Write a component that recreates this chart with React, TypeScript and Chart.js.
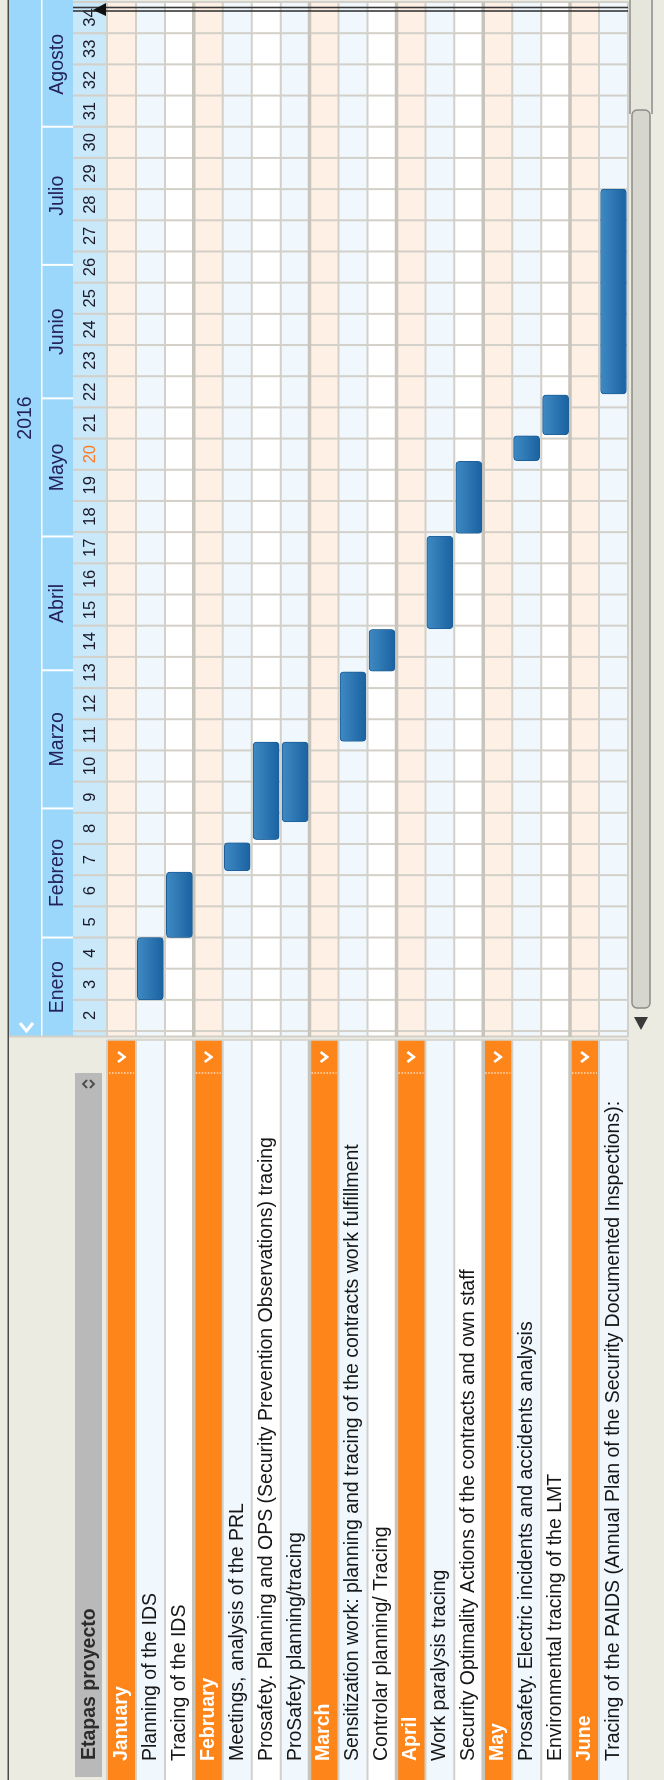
import React, { useEffect, useRef } from 'react';
import { Chart, registerables } from 'chart.js';

Chart.register(...registerables);

// ---------- data ----------
const taskLabels = [
  'January',
  'Planning of the IDS',
  'Tracing of the IDS',
  'February',
  'Meetings, analysis of the PRL',
  'Prosafety. Planning and OPS (Security Prevention Observations) tracing',
  'ProSafety planning/tracing',
  'March',
  'Sensitization work: planning and tracing of the contracts work fulfillment',
  'Controlar planning/ Tracing',
  'April',
  'Work paralysis tracing',
  'Security Optimality Actions of the contracts and own staff',
  'May',
  'Prosafety. Electric incidents and accidents analysis',
  'Environmental tracing of the LMT',
  'June',
  'Tracing of the PAIDS (Annual Plan of the Security Documented Inspections):',
];
const groupLabels = ['January', 'February', 'March', 'April', 'May', 'June'];
// start / end of each task, in weeks (week n spans n .. n+1)
const taskStart: (number | null)[] = [null, 3, 5, null, 7.14, 8.14, 8.71, null, 11.29, 13.54, null, 14.9, 17.96, null, 20.29, 21.12, null, 22.43];
const taskEnd: (number | null)[] = [null, 5, 7.1, null, 8.04, 11.27, 11.27, null, 13.52, 14.88, null, 17.87, 20.27, null, 21.09, 22.4, null, 29];
const weeks = [2, 3, 4, 5, 6, 7, 8, 9, 10, 11, 12, 13, 14, 15, 16, 17, 18, 19, 20, 21, 22, 23, 24, 25, 26, 27, 28, 29, 30, 31, 32, 33, 34];
const currentWeek = 20;
const monthNames = ['Enero', 'Febrero', 'Marzo', 'Abril', 'Mayo', 'Junio', 'Julio', 'Agosto'];
const monthStarts = [1, 5, 9.14, 13.57, 17.86, 22.29, 26.57, 31];
const yearLabel = '2016';
const panelTitle = 'Etapas proyecto';
const axisMin = 1.81;
const axisMax = 35;

// ---------- style / layout ----------
const FONT = "'Liberation Sans', Arial, Helvetica, sans-serif";
const W = 1780;
const H = 664;
const COL = {
  beige: '#ecebe1',
  head: '#9ad7fb',
  weekBand: '#c9e8fa',
  peach: '#fef0e5',
  lightBlue: '#f0f8fe',
  white: '#ffffff',
  orange: '#fe851a',
  grid: '#d2d0c8',
  gridGroup: '#c6c4bb',
  border: '#4a4a4a',
  text: '#161616',
  month: '#24225a',
  week: '#1a1a2a',
  weekNow: '#ff7a1f',
  bar1: '#3f8ac3',
  bar2: '#1a62a1',
  barBorder: '#1d5f99',
};
const LAY = {
  padLeft: 19,
  plotLeft: 743,
  plotTop: 107,
  padRight: 2,
  padBottom: 36,
  borderY: 8,
  yearTop: 9,
  yearBottom: 41,
  monthBottom: 73,
  weekTop: 73,
  panelRight: 740,
  headLeft: 3,
  headRight: 707,
  headTop: 75,
  headBottom: 102,
  yearX: 1362,
  chevronX: 723,
  dotX: 707,
  scrollTop: 630,
  scrollBottom: 652,
  thumbLeft: 772,
  thumbRight: 1670,
};
const LABEL_SIZE = 19.5;
const WEEK_SIZE = 16.5;

const isGroup = (i: number) => groupLabels.includes(taskLabels[i]);

const ganttPlugin = {
  id: 'ganttDecor',
  beforeDraw(chart: any) {
    const ctx: CanvasRenderingContext2D = chart.ctx;
    const xs = chart.scales.x;
    const ca = chart.chartArea;
    const n = taskLabels.length;
    const rh = (ca.bottom - ca.top) / n;
    ctx.save();
    ctx.fillStyle = COL.beige;
    ctx.fillRect(0, 0, W, H);

    // header bands
    ctx.fillStyle = COL.head;
    ctx.fillRect(ca.left, LAY.yearTop, W - ca.left, LAY.monthBottom - LAY.yearTop);
    ctx.fillStyle = '#ffffff';
    ctx.fillRect(ca.left, LAY.yearBottom, W - ca.left, 1.5);
    ctx.fillStyle = COL.weekBand;
    ctx.fillRect(ca.left, LAY.weekTop, W - ca.left, ca.top - LAY.weekTop);

    // rows (grid + panel)
    let k = 0;
    for (let i = 0; i < n; i++) {
      const top = ca.top + i * rh;
      let gridColor: string;
      let panelColor: string;
      if (isGroup(i)) {
        gridColor = COL.peach;
        panelColor = COL.orange;
        k = 0;
      } else {
        gridColor = k % 2 === 0 ? COL.lightBlue : COL.white;
        panelColor = gridColor;
        k++;
      }
      ctx.fillStyle = gridColor;
      ctx.fillRect(ca.left, top, ca.right - ca.left, rh);
      ctx.fillStyle = panelColor;
      ctx.fillRect(0, top, LAY.panelRight, rh);
    }

    // week lines
    ctx.strokeStyle = COL.grid;
    ctx.lineWidth = 2;
    for (let w = Math.ceil(axisMin); w <= axisMax; w++) {
      const px = xs.getPixelForValue(w);
      ctx.beginPath();
      ctx.moveTo(px, LAY.weekTop);
      ctx.lineTo(px, ca.bottom);
      ctx.stroke();
    }
    // grid left edge
    ctx.beginPath();
    ctx.moveTo(ca.left + 0.5, LAY.yearTop);
    ctx.lineTo(ca.left + 0.5, ca.bottom);
    ctx.stroke();

    // row separators
    for (let i = 0; i <= n; i++) {
      const yy = ca.top + i * rh;
      const grp = i > 0 && i < n && isGroup(i);
      ctx.strokeStyle = grp ? COL.gridGroup : COL.grid;
      ctx.lineWidth = grp ? 3.5 : 2;
      ctx.beginPath();
      ctx.moveTo(ca.left, yy);
      ctx.lineTo(ca.right, yy);
      ctx.stroke();
      ctx.beginPath();
      ctx.moveTo(0, yy);
      ctx.lineTo(LAY.panelRight, yy);
      ctx.stroke();
    }
    ctx.strokeStyle = COL.grid;
    ctx.lineWidth = 1.5;
    ctx.beginPath();
    ctx.moveTo(LAY.panelRight, ca.top);
    ctx.lineTo(LAY.panelRight, ca.bottom);
    ctx.stroke();

    // orange row decorations
    for (let i = 0; i < n; i++) {
      if (!isGroup(i)) continue;
      const top = ca.top + i * rh;
      const cy = top + rh / 2;
      ctx.strokeStyle = '#ffffff';
      ctx.lineWidth = 2.6;
      ctx.beginPath();
      ctx.moveTo(LAY.chevronX - 5, cy - 3.5);
      ctx.lineTo(LAY.chevronX, cy + 3);
      ctx.lineTo(LAY.chevronX + 5, cy - 3.5);
      ctx.stroke();
      ctx.lineWidth = 1.2;
      ctx.setLineDash([1.5, 1.5]);
      ctx.strokeStyle = 'rgba(255,255,255,0.9)';
      ctx.beginPath();
      ctx.moveTo(LAY.dotX, top + 2);
      ctx.lineTo(LAY.dotX, top + rh - 2);
      ctx.stroke();
      ctx.setLineDash([]);
    }

    // months
    ctx.font = `${LABEL_SIZE}px ${FONT}`;
    ctx.textAlign = 'center';
    ctx.textBaseline = 'middle';
    for (let i = 0; i < monthNames.length; i++) {
      const s = monthStarts[i];
      const e = i + 1 < monthStarts.length ? monthStarts[i + 1] : axisMax;
      const vs = Math.max(s, axisMin);
      const ve = Math.min(e, axisMax);
      if (ve <= vs) continue;
      if (s > axisMin) {
        const px = xs.getPixelForValue(s);
        ctx.fillStyle = '#ffffff';
        ctx.fillRect(px - 1, LAY.yearBottom, 2, LAY.monthBottom - LAY.yearBottom);
      }
      ctx.fillStyle = COL.month;
      ctx.fillText(monthNames[i], (xs.getPixelForValue(vs) + xs.getPixelForValue(ve)) / 2, (LAY.yearBottom + LAY.monthBottom) / 2 + 1);
    }
    // year
    ctx.fillStyle = COL.month;
    ctx.fillText(yearLabel, LAY.yearX, (LAY.yearTop + LAY.yearBottom) / 2 + 1);

    // year band chevron
    ctx.strokeStyle = '#ffffff';
    ctx.lineWidth = 3;
    ctx.beginPath();
    ctx.moveTo(ca.left + 14, 20);
    ctx.lineTo(ca.left + 6, 26.5);
    ctx.lineTo(ca.left + 14, 33);
    ctx.stroke();

    // left border
    ctx.fillStyle = COL.border;
    ctx.fillRect(0, LAY.borderY - 0.5, W, 1.5);

    // panel header
    ctx.fillStyle = '#b9b9b9';
    ctx.fillRect(LAY.headLeft, LAY.headTop, LAY.headRight - LAY.headLeft, LAY.headBottom - LAY.headTop);
    ctx.fillStyle = '#2c2c2c';
    ctx.font = `bold ${LABEL_SIZE}px ${FONT}`;
    ctx.textAlign = 'left';
    ctx.fillText(panelTitle, LAY.padLeft + 1, (LAY.headTop + LAY.headBottom) / 2 + 1);
    ctx.strokeStyle = '#4a4a4a';
    ctx.lineWidth = 1.8;
    ctx.beginPath();
    ctx.moveTo(692, 87);
    ctx.lineTo(696, 83);
    ctx.lineTo(700, 87);
    ctx.moveTo(692, 90);
    ctx.lineTo(696, 94);
    ctx.lineTo(700, 90);
    ctx.stroke();

    // scrollbar
    ctx.fillStyle = '#e7e6dd';
    ctx.fillRect(LAY.thumbRight, LAY.scrollTop, W - LAY.thumbRight, LAY.scrollBottom - LAY.scrollTop);
    ctx.strokeStyle = '#a3a3a0';
    ctx.lineWidth = 2;
    ctx.beginPath();
    ctx.moveTo(LAY.thumbRight - 4, LAY.scrollTop);
    ctx.lineTo(W, LAY.scrollTop);
    ctx.moveTo(LAY.thumbRight - 4, LAY.scrollBottom);
    ctx.lineTo(W, LAY.scrollBottom);
    ctx.stroke();
    ctx.fillStyle = '#d6d5ce';
    ctx.strokeStyle = '#8c8c8a';
    ctx.lineWidth = 1.5;
    ctx.beginPath();
    const tw = LAY.thumbRight - LAY.thumbLeft;
    const th = LAY.scrollBottom - LAY.scrollTop - 4;
    if ((ctx as any).roundRect) {
      (ctx as any).roundRect(LAY.thumbLeft, LAY.scrollTop + 2, tw, th, 5);
    } else {
      ctx.rect(LAY.thumbLeft, LAY.scrollTop + 2, tw, th);
    }
    ctx.fill();
    ctx.stroke();
    ctx.fillStyle = '#3a3a3a';
    ctx.beginPath();
    ctx.moveTo(ca.left + 7, 641);
    ctx.lineTo(ca.left + 20, 634);
    ctx.lineTo(ca.left + 20, 648);
    ctx.closePath();
    ctx.fill();
    ctx.restore();
  },
  afterDraw(chart: any) {
    const ctx: CanvasRenderingContext2D = chart.ctx;
    const ca = chart.chartArea;
    ctx.save();
    ctx.strokeStyle = '#383838';
    ctx.lineWidth = 1.6;
    ctx.beginPath();
    ctx.moveTo(1769, LAY.weekTop);
    ctx.lineTo(1769, ca.bottom);
    ctx.moveTo(1772.5, LAY.weekTop);
    ctx.lineTo(1772.5, ca.bottom);
    ctx.stroke();
    ctx.fillStyle = '#111111';
    ctx.beginPath();
    ctx.moveTo(1770, 93);
    ctx.lineTo(1764, 106);
    ctx.lineTo(1777, 106);
    ctx.closePath();
    ctx.fill();
    ctx.restore();
  },
};

function barFill(c: any) {
  const chart = c.chart;
  const ys = chart && chart.scales ? chart.scales.y : null;
  if (!ys || typeof c.dataIndex !== 'number') return COL.bar2;
  const cy = ys.getPixelForValue(c.dataIndex);
  if (!Number.isFinite(cy)) return COL.bar2;
  const g = chart.ctx.createLinearGradient(0, cy - 13, 0, cy + 13);
  g.addColorStop(0, COL.bar1);
  g.addColorStop(1, COL.bar2);
  return g;
}

export default function App() {
  const ref = useRef<HTMLCanvasElement>(null);
  useEffect(() => {
    document.body.style.margin = '0';
    Chart.defaults.font.family = FONT;
    const canvas = ref.current!;
    const barData = taskStart.map((s, i) => (s == null || taskEnd[i] == null ? null : [s, taskEnd[i] as number]));
    let chart: Chart | null = null;
    try {
      chart = new Chart(canvas, {
        type: 'bar',
        data: {
          labels: taskLabels,
          datasets: [
            {
              data: barData as any,
              backgroundColor: barFill,
              borderColor: COL.barBorder,
              borderWidth: 1,
              borderRadius: 4,
              borderSkipped: false,
              barThickness: 26,
            } as any,
          ],
        },
        options: {
          responsive: false,
          animation: false,
          devicePixelRatio: 1,
          indexAxis: 'y',
          events: [],
          layout: { padding: { left: LAY.padLeft, right: LAY.padRight, top: 0, bottom: LAY.padBottom } },
          plugins: {
            legend: { display: false },
            tooltip: { enabled: false },
            title: { display: false },
          },
          scales: {
            x: {
              type: 'linear',
              position: 'top',
              min: axisMin,
              max: axisMax,
              afterBuildTicks: (s: any) => {
                s.ticks = weeks.map((w) => ({ value: w + 0.5 }));
              },
              afterFit: (s: any) => {
                s.height = LAY.plotTop;
              },
              ticks: {
                autoSkip: false,
                maxRotation: 0,
                minRotation: 0,
                padding: 7,
                font: { size: WEEK_SIZE, family: FONT },
                color: (c: any) => (weeks[c.index] === currentWeek ? COL.weekNow : COL.week),
                callback: (_v: any, i: number) => String(weeks[i]),
              },
              grid: { display: false, drawTicks: false },
              border: { display: false },
            },
            y: {
              type: 'category',
              position: 'left',
              afterFit: (s: any) => {
                s.width = LAY.plotLeft - LAY.padLeft;
              },
              ticks: {
                autoSkip: false,
                crossAlign: 'far',
                padding: 0,
                font: (c: any) => ({ size: LABEL_SIZE, family: FONT, weight: isGroup(c.index) ? 'bold' : 'normal' }),
                color: (c: any) => (isGroup(c.index) ? '#ffffff' : COL.text),
              },
              grid: { display: false, drawTicks: false },
              border: { display: false },
            },
          },
        } as any,
        plugins: [ganttPlugin],
      });
    } catch (e) {
      console.error(e);
    }
    return () => {
      if (chart) chart.destroy();
    };
  }, []);

  return (
    <div style={{ position: 'absolute', left: 0, top: 0, width: 664, height: 1780, overflow: 'hidden', background: COL.beige }}>
      <div
        style={{
          position: 'absolute',
          left: 0,
          top: 0,
          width: W,
          height: H,
          transformOrigin: '0 0',
          transform: `translateY(${W}px) rotate(-90deg)`,
        }}
      >
        <canvas ref={ref} width={W} height={H} style={{ display: 'block', width: W, height: H }} />
      </div>
    </div>
  );
}
